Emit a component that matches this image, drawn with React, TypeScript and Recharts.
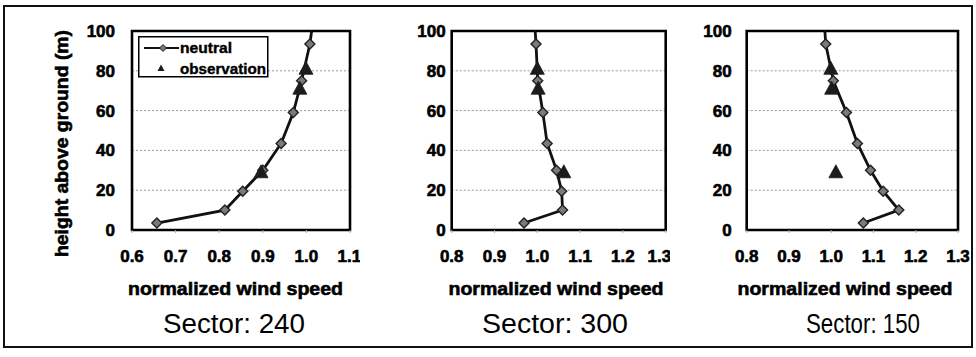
import React from 'react';
import { ScatterChart, Scatter, XAxis, YAxis, CartesianGrid, ReferenceArea, Legend } from 'recharts';

const F = "'Liberation Sans', Arial, Helvetica, sans-serif";

// model heights (m); last entry is where the profile leaves the plot top
const heights = [3.5, 10, 19.5, 30, 43.5, 59, 75, 93.5, 100];
const neutral240 = [0.657, 0.813, 0.854, 0.9, 0.942, 0.97, 0.989, 1.008, 1.012];
const neutral300 = [0.969, 1.059, 1.057, 1.045, 1.023, 1.013, 1.001, 0.997, 0.995];
const neutral150 = [1.076, 1.16, 1.123, 1.093, 1.062, 1.036, 1.005, 0.987, 0.985];

const obsHeights = [29, 71, 81];
const obs240 = [0.896, 0.985, 0.999];
const obs300 = [1.062, 1.002, 1.0];
const obs150 = [1.011, 1.001, 0.999];

const ticks240 = [0.6, 0.7, 0.8, 0.9, 1.0, 1.1];
const ticksOther = [0.8, 0.9, 1.0, 1.1, 1.2, 1.3];
const yTicks = [0, 20, 40, 60, 80, 100];

const sectors = ['Sector: 240', 'Sector: 300', 'Sector: 150'];
const xTitle = 'normalized wind speed';
const yTitle = 'height above ground (m)';

const toRows = (us: number[], hs: number[], hideLast: boolean) =>
  us.map((u, i) => ({ u, h: hs[i], hidden: hideLast && i === us.length - 1 }));

const Diamond = (props: any) => {
  const { cx, cy, payload } = props;
  if (payload && payload.hidden) return <g />;
  const r = 5;
  return (
    <path
      d={`M${cx},${cy - r}L${cx + r},${cy}L${cx},${cy + r}L${cx - r},${cy}Z`}
      fill="#7a7a7a"
      stroke="#222"
      strokeWidth={1.4}
    />
  );
};

const Triangle = (props: any) => {
  const { cx, cy } = props;
  return (
    <path
      d={`M${cx},${cy - 7.5}L${cx + 7},${cy + 5.5}L${cx - 7},${cy + 5.5}Z`}
      fill="#1c1c1c"
      stroke="#1c1c1c"
      strokeWidth={0.8}
    />
  );
};

const heavy = { stroke: '#000', strokeWidth: 0.6 };

const LegendBox = () => (
  <svg width={131} height={42} style={{ display: 'block' }}>
    <rect x={0.75} y={0.75} width={129} height={40} fill="#fff" stroke="#000" strokeWidth={1.5} />
    <line x1={6} y1={12} x2={41} y2={12} stroke="#111" strokeWidth={2.2} />
    <path d="M25,8.5L28.5,12L25,15.5L21.5,12Z" fill="#7a7a7a" stroke="#222" strokeWidth={1} />
    <text x={42} y={17} fontFamily={F} fontWeight="bold" fontSize={15} fill="#000" {...heavy} strokeWidth={0.4} textLength={52} lengthAdjust="spacingAndGlyphs">neutral</text>
    <path d="M23,28.5L26.5,35L19.5,35Z" fill="#1c1c1c" />
    <text x={42} y={38} fontFamily={F} fontWeight="bold" fontSize={15} fill="#000" {...heavy} strokeWidth={0.4} textLength={86} lengthAdjust="spacingAndGlyphs">observation</text>
  </svg>
);

type PanelProps = {
  left: number;
  width: number;
  marginLeft: number;
  marginRight: number;
  yTickMargin: number;
  domain: [number, number];
  xTicks: number[];
  neutral: number[];
  obs: number[];
  sector: string;
  titleX: number;
  sectorX: number;
  sectorLen: number;
  showLegend: boolean;
  showYTitle: boolean;
};

const tickStyle = { fontSize: 17, fontWeight: 'bold', fill: '#000', fontFamily: F, stroke: '#000', strokeWidth: 0.6 };

const Panel = (p: PanelProps) => {
  const lineData = toRows(p.neutral, heights, true);
  const obsData = toRows(p.obs, obsHeights, false);
  return (
    <div style={{ position: 'absolute', left: p.left, top: 0, width: p.width, height: 357 }}>
      <ScatterChart
        width={p.width}
        height={357}
        margin={{ top: 31, right: p.marginRight, bottom: 97, left: p.marginLeft }}
      >
        <CartesianGrid horizontal vertical={false} stroke="#9a9a9a" strokeDasharray="2 2" />
        <XAxis
          type="number"
          dataKey="u"
          domain={p.domain}
          ticks={p.xTicks}
          allowDataOverflow
          tickFormatter={(v: number) => v.toFixed(1)}
          axisLine={false}
          tickLine={{ stroke: '#aaa' }}
          tickSize={3}
          tickMargin={17}
          height={30}
          tick={tickStyle}
        />
        <YAxis
          type="number"
          dataKey="h"
          domain={[0, 100]}
          ticks={yTicks}
          allowDataOverflow
          axisLine={false}
          tickLine={false}
          tickSize={0}
          tickMargin={p.yTickMargin}
          width={60}
          tick={tickStyle}
        />
        <ReferenceArea
          x1={p.domain[0]}
          x2={p.domain[1]}
          y1={0}
          y2={100}
          fill="none"
          fillOpacity={0}
          stroke="#000"
          strokeWidth={2.6}
          ifOverflow="visible"
        />
        <Scatter
          name="neutral"
          data={lineData}
          line={{ stroke: '#111', strokeWidth: 2.8 }}
          lineType="joint"
          shape={Diamond}
          isAnimationActive={false}
        />
        <Scatter name="observation" data={obsData} shape={Triangle} isAnimationActive={false} />
        {p.showLegend && (
          <Legend
            layout="horizontal"
            verticalAlign="middle"
            align="center"
            content={() => <LegendBox />}
            wrapperStyle={{ left: 138, top: 36, width: 131, height: 42 }}
          />
        )}
        {p.showYTitle && (
          <text
            transform="rotate(-90)"
            x={-143.5}
            y={68}
            textAnchor="middle"
            fontFamily={F}
            fontWeight="bold"
            fontSize={19}
            fill="#000"
            {...heavy}
            textLength={227}
            lengthAdjust="spacingAndGlyphs"
          >
            {yTitle}
          </text>
        )}
        <text
          x={p.titleX}
          y={295}
          textAnchor="middle"
          fontFamily={F}
          fontWeight="bold"
          fontSize={19}
          fill="#000"
          {...heavy}
          textLength={215}
          lengthAdjust="spacingAndGlyphs"
        >
          {xTitle}
        </text>
        <text
          x={p.sectorX}
          y={333}
          textAnchor="middle"
          fontFamily={F}
          fontSize={27}
          fill="#000"
          textLength={p.sectorLen}
          lengthAdjust="spacingAndGlyphs"
        >
          {p.sector}
        </text>
      </ScatterChart>
    </div>
  );
};

export default function App() {
  return (
    <div style={{ position: 'absolute', left: 0, top: 0, width: 976, height: 357, background: '#fff', overflow: 'hidden' }}>
      <div
        style={{
          position: 'absolute',
          left: 3,
          top: 5,
          width: 970,
          height: 343,
          border: '2px solid #111',
          boxSizing: 'border-box',
        }}
      />
      <Panel
        left={0}
        width={360}
        marginLeft={72}
        marginRight={10}
        yTickMargin={17}
        domain={[0.6, 1.1]}
        xTicks={ticks240}
        neutral={neutral240}
        obs={obs240}
        sector={sectors[0]}
        titleX={235.5}
        sectorX={234}
        sectorLen={142}
        showLegend
        showYTitle
      />
      <Panel
        left={360}
        width={310}
        marginLeft={31.7}
        marginRight={4.3}
        yTickMargin={6}
        domain={[0.8, 1.3]}
        xTicks={ticksOther}
        neutral={neutral300}
        obs={obs300}
        sector={sectors[1]}
        titleX={196}
        sectorX={195}
        sectorLen={146}
        showLegend={false}
        showYTitle={false}
      />
      <Panel
        left={670}
        width={306}
        marginLeft={16.7}
        marginRight={18}
        yTickMargin={15}
        domain={[0.8, 1.3]}
        xTicks={ticksOther}
        neutral={neutral150}
        obs={obs150}
        sector={sectors[2]}
        titleX={175}
        sectorX={193}
        sectorLen={114}
        showLegend={false}
        showYTitle={false}
      />
    </div>
  );
}
